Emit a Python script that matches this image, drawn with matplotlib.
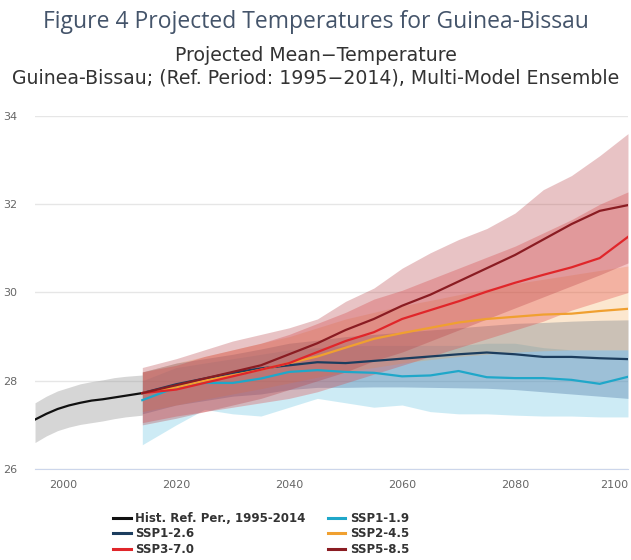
import matplotlib
matplotlib.use("Agg")
import matplotlib.pyplot as plt
from matplotlib.lines import Line2D

# historical reference period
hist_years = [1995, 1997, 1999, 2001, 2003, 2005, 2007, 2009, 2011, 2014]
hist_mean = [27.12, 27.25, 27.36, 27.44, 27.50, 27.55, 27.58, 27.62, 27.66, 27.72]
hist_low = [26.60, 26.75, 26.87, 26.95, 27.01, 27.05, 27.09, 27.14, 27.18, 27.22]
hist_high = [27.50, 27.65, 27.77, 27.85, 27.93, 27.98, 28.02, 28.07, 28.10, 28.13]

# projections, every 5 years
years = [2014, 2020, 2025, 2030, 2035, 2040, 2045, 2050, 2055,
         2060, 2065, 2070, 2075, 2080, 2085, 2090, 2095, 2100]

ssp119 = [27.56, 27.85, 27.95, 27.95, 28.05, 28.20, 28.24, 28.20, 28.18,
          28.10, 28.12, 28.22, 28.08, 28.06, 28.06, 28.02, 27.93, 28.09]
ssp119_lo = [26.55, 27.00, 27.35, 27.25, 27.20, 27.40, 27.60, 27.50, 27.40,
             27.45, 27.30, 27.25, 27.25, 27.22, 27.20, 27.20, 27.18, 27.18]
ssp119_hi = [28.00, 28.30, 28.40, 28.50, 28.60, 28.70, 28.75, 28.80, 28.80,
             28.80, 28.80, 28.80, 28.85, 28.85, 28.75, 28.70, 28.70, 28.70]

ssp126 = [27.72, 27.92, 28.05, 28.18, 28.28, 28.35, 28.42, 28.40, 28.45,
          28.50, 28.55, 28.60, 28.64, 28.60, 28.54, 28.54, 28.51, 28.49]
ssp126_lo = [27.25, 27.45, 27.55, 27.65, 27.70, 27.80, 27.85, 27.85, 27.86,
             27.86, 27.85, 27.84, 27.83, 27.80, 27.75, 27.70, 27.65, 27.60]
ssp126_hi = [28.20, 28.40, 28.50, 28.60, 28.72, 28.85, 28.92, 29.00, 29.05,
             29.10, 29.15, 29.20, 29.25, 29.30, 29.32, 29.35, 29.37, 29.38]

ssp245 = [27.72, 27.85, 28.00, 28.12, 28.25, 28.40, 28.55, 28.75, 28.95,
          29.08, 29.20, 29.32, 29.40, 29.45, 29.50, 29.52, 29.58, 29.63]
ssp245_lo = [27.30, 27.45, 27.58, 27.70, 27.82, 27.95, 28.08, 28.20, 28.30,
             28.40, 28.48, 28.55, 28.60, 28.65, 28.68, 28.70, 28.70, 28.70]
ssp245_hi = [28.20, 28.40, 28.55, 28.70, 28.85, 29.00, 29.20, 29.40, 29.55,
             29.70, 29.82, 29.95, 30.08, 30.20, 30.30, 30.40, 30.50, 30.60]

ssp370 = [27.72, 27.80, 27.95, 28.10, 28.25, 28.40, 28.65, 28.90, 29.10,
          29.40, 29.60, 29.80, 30.02, 30.22, 30.40, 30.57, 30.78, 31.26]
ssp370_lo = [27.05, 27.20, 27.30, 27.40, 27.50, 27.60, 27.75, 27.95, 28.15,
             28.35, 28.55, 28.75, 28.95, 29.15, 29.35, 29.60, 29.80, 30.00]
ssp370_hi = [28.20, 28.35, 28.55, 28.70, 28.85, 29.05, 29.30, 29.55, 29.85,
             30.05, 30.30, 30.55, 30.80, 31.05, 31.35, 31.65, 32.00, 32.28]

ssp585 = [27.72, 27.90, 28.05, 28.20, 28.35, 28.60, 28.85, 29.15, 29.40,
          29.70, 29.95, 30.25, 30.55, 30.85, 31.20, 31.55, 31.85, 31.98]
ssp585_lo = [27.00, 27.15, 27.30, 27.45, 27.60, 27.80, 28.00, 28.20, 28.45,
             28.65, 28.90, 29.15, 29.40, 29.65, 29.90, 30.15, 30.40, 30.67]
ssp585_hi = [28.30, 28.50, 28.70, 28.90, 29.05, 29.20, 29.40, 29.80, 30.10,
             30.55, 30.90, 31.20, 31.45, 31.80, 32.33, 32.65, 33.10, 33.60]

x_ticks = [2000, 2020, 2040, 2060, 2080, 2100]
y_ticks = [26, 28, 30, 32, 34]

fig = plt.figure(figsize=(6.31, 5.6), dpi=100)
ax = fig.add_axes([0.0555, 0.1625, 0.9397, 0.6304])

# bands
ax.fill_between(hist_years, hist_low, hist_high, color="#999999", alpha=0.4, lw=0)
ax.fill_between(years, ssp119_lo, ssp119_hi, color="#5bc0e0", alpha=0.3, lw=0)
ax.fill_between(years, ssp126_lo, ssp126_hi, color="#4471a1", alpha=0.35, lw=0)
ax.fill_between(years, ssp245_lo, ssp245_hi, color="#f5a040", alpha=0.25, lw=0)
ax.fill_between(years, ssp370_lo, ssp370_hi, color="#e03a3a", alpha=0.3, lw=0)
ax.fill_between(years, ssp585_lo, ssp585_hi, color="#b53a40", alpha=0.3, lw=0)

# lines
c_hist, c119, c126, c245, c370, c585 = "#111111", "#1fa7c9", "#1c3d5e", "#f0a030", "#e0262a", "#8a1c22"
ax.plot(hist_years, hist_mean, color=c_hist, lw=1.6)
ax.plot(years, ssp119, color=c119, lw=1.6)
ax.plot(years, ssp126, color=c126, lw=1.6)
ax.plot(years, ssp245, color=c245, lw=1.6)
ax.plot(years, ssp370, color=c370, lw=1.6)
ax.plot(years, ssp585, color=c585, lw=1.6)

ax.set_xlim(1995, 2100)
ax.set_ylim(26, 34)
ax.set_yticks(y_ticks)
ax.set_xticks(x_ticks)
ax.grid(axis="y", color="#e6e6e6", lw=1)
ax.set_axisbelow(True)
for s in ["top", "right", "left"]:
    ax.spines[s].set_visible(False)
ax.spines["bottom"].set_color("#ccd6eb")
ax.tick_params(length=0, labelsize=8, labelcolor="#666666")
ax.tick_params(axis="y", pad=13)
ax.tick_params(axis="x", pad=8)
labs = ax.get_xticklabels()
labs[-1].set_horizontalalignment("right")

fig.text(0.5, 0.960, "Figure 4 Projected Temperatures for Guinea-Bissau",
         ha="center", va="center", fontsize=16.5, color="#44546a", family="Open Sans")
fig.text(0.5, 0.901, "Projected Mean\u2212Temperature",
         ha="center", va="center", fontsize=13.6, color="#333333")
fig.text(0.5, 0.860, "Guinea-Bissau; (Ref. Period: 1995\u22122014), Multi-Model Ensemble",
         ha="center", va="center", fontsize=13.6, color="#333333")

handles = [
    Line2D([], [], color=c_hist, lw=2.2),
    Line2D([], [], color=c126, lw=2.2),
    Line2D([], [], color=c370, lw=2.2),
    Line2D([], [], color=c119, lw=2.2),
    Line2D([], [], color=c245, lw=2.2),
    Line2D([], [], color=c585, lw=2.2),
]
labels = ["Hist. Ref. Per., 1995-2014", "SSP1-2.6", "SSP3-7.0",
          "SSP1-1.9", "SSP2-4.5", "SSP5-8.5"]
fig.legend(handles, labels, ncol=2, loc="upper left", bbox_to_anchor=(113 / 631, 1 - 512 / 560),
           frameon=False, prop={"weight": "bold", "size": 8.5}, labelcolor="#333333",
           handlelength=1.5, handletextpad=0.4, labelspacing=0.2, columnspacing=1.85,
           borderpad=0, borderaxespad=0)

fig.savefig("out.png", dpi=100)
